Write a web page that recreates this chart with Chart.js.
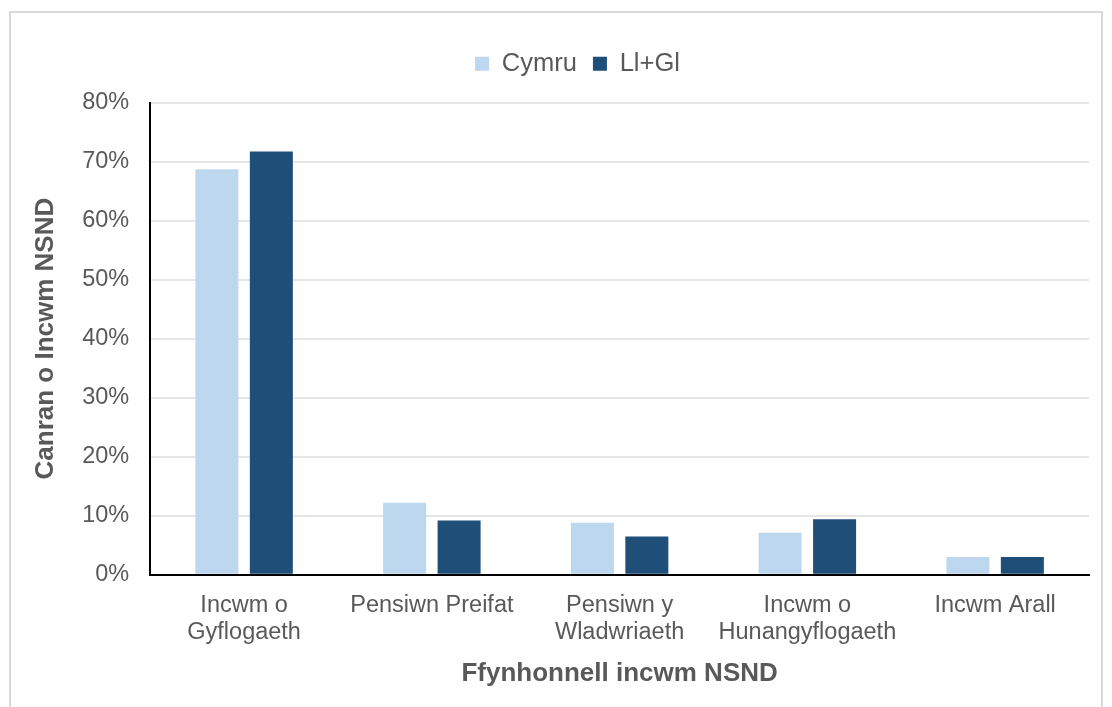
<!DOCTYPE html>
<html>
<head>
<meta charset="utf-8">
<script src="https://cdn.jsdelivr.net/npm/chart.js@4.4.1/dist/chart.umd.min.js"></script>
<style>
  body { margin: 0; background: #fff; }
  #frame { position: absolute; left: 9px; top: 11px; width: 1094px; height: 710px; border: 2px solid #d9d9d9; box-sizing: border-box; }
  #wrap { position: absolute; left: 11px; top: 13px; width: 1090px; height: 694px; }
</style>
</head>
<body>
<div id="frame"></div>
<div id="wrap"><canvas id="barChart"></canvas></div>
<script>
// categories and series (share of income, %)
var categories = [["Incwm o", "Gyflogaeth"], "Pensiwn Preifat", ["Pensiwn y", "Wladwriaeth"], ["Incwm o", "Hunangyflogaeth"], "Incwm Arall"];
var cymru = [68.7, 12.2, 8.8, 7.1, 3.0];
var llgl = [71.7, 9.2, 6.5, 9.4, 3.0];
var yTicks = [0, 10, 20, 30, 40, 50, 60, 70, 80];

var grey = "#595959";

// extra space under the legend, and nudge it right like the original
var legendTweak = {
  id: "legendTweak",
  beforeInit: function (chart) {
    var fit = chart.legend.fit;
    chart.legend.fit = function () {
      fit.call(this);
      this.height += 16;
    };
  },
  afterUpdate: function (chart) {
    chart.legend.left += 18;
    chart.legend.right += 18;
    chart.legend.adjustHitBoxes();
  }
};

var ctx = document.getElementById("barChart").getContext("2d");
var myBarChart = new Chart(ctx, {
  type: "bar",
  data: {
    labels: categories,
    datasets: [{
      label: "Cymru",
      data: cymru,
      backgroundColor: "#bdd7ee"
    }, {
      label: "Ll+Gl",
      data: llgl,
      backgroundColor: "#1f4e79"
    }]
  },
  options: {
    responsive: true,
    maintainAspectRatio: false,
    animation: false,
    categoryPercentage: 0.58,
    barPercentage: 0.79,
    layout: { padding: { left: 19, right: 12, top: 22, bottom: 14 } },
    plugins: {
      legend: {
        position: "top",
        labels: {
          color: grey,
          font: { family: "Arial, Liberation Sans", size: 25.5 },
          boxWidth: 14,
          boxHeight: 14,
          padding: 16
        }
      },
      tooltip: { enabled: false }
    },
    scales: {
      x: {
        grid: { display: false },
        border: { color: "#000", width: 2 },
        ticks: {
          color: grey,
          maxRotation: 0,
          padding: 9,
          font: { family: "Arial, Liberation Sans", size: 23.5, lineHeight: 1.15 }
        },
        title: {
          display: true,
          text: "Ffynhonnell incwm NSND",
          color: grey,
          padding: { top: 3 },
          font: { family: "Arial, Liberation Sans", size: 26, weight: "bold" }
        }
      },
      y: {
        min: 0,
        max: 80,
        afterBuildTicks: function (axis) {
          axis.ticks = yTicks.map(function (v) { return { value: v }; });
        },
        grid: { color: "#e6e6e6", lineWidth: 2, drawTicks: false },
        border: { color: "#000", width: 2 },
        ticks: {
          color: grey,
          padding: 21,
          font: { family: "Arial, Liberation Sans", size: 23.5 },
          callback: function (v) { return v + "%"; }
        },
        title: {
          display: true,
          text: "Canran o Incwm NSND",
          color: grey,
          padding: 0,
          font: { family: "Arial, Liberation Sans", size: 26, weight: "bold" }
        }
      }
    }
  },
  plugins: [legendTweak]
});
</script>
</body>
</html>
